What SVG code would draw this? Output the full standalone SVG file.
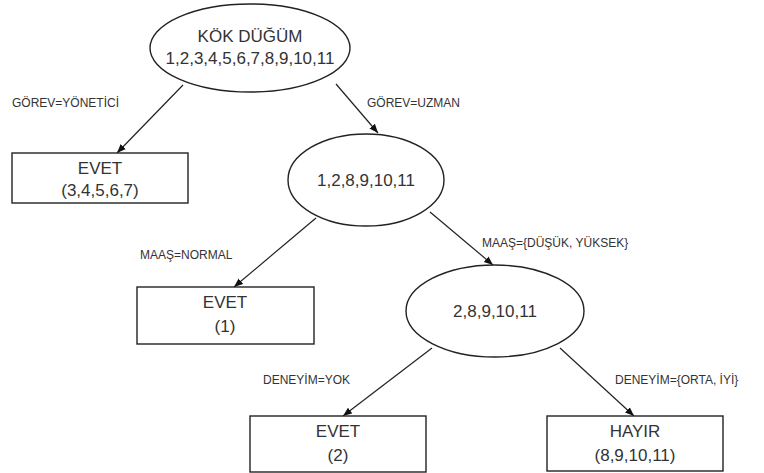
<svg xmlns="http://www.w3.org/2000/svg" width="764" height="473" viewBox="0 0 764 473">
<style>
.node{fill:#fff;stroke:#222;stroke-width:1.4}
.t{font-family:"Liberation Sans",Arial,sans-serif;font-size:17px;fill:#333;text-anchor:middle}
.lbl{font-family:"Liberation Sans",Arial,sans-serif;font-size:12px;fill:#333}
.e{stroke:#222;stroke-width:1.2;fill:none;marker-end:url(#ah)}
</style>
<defs>
<marker id="ah" viewBox="0 0 10 10" refX="10" refY="5" markerWidth="9" markerHeight="9" markerUnits="userSpaceOnUse" orient="auto">
<path d="M0,1 L10,5 L0,9 z" fill="#111"/>
</marker>
</defs>
<rect width="764" height="473" fill="#fff"/>
<g id="connectors">
<line class="e" x1="183" y1="85" x2="117" y2="153"/>
<line class="e" x1="336" y1="84" x2="378" y2="133"/>
<line class="e" x1="316" y1="218" x2="234" y2="287"/>
<line class="e" x1="430" y1="212" x2="493" y2="265"/>
<line class="e" x1="432" y1="348" x2="343" y2="416"/>
<line class="e" x1="560" y1="348" x2="634" y2="416"/>
<text class="lbl" x="12" y="107">GÖREV=YÖNETİCİ</text>
<text class="lbl" x="367" y="107">GÖREV=UZMAN</text>
<text class="lbl" x="140" y="259">MAAŞ=NORMAL</text>
<text class="lbl" x="482" y="247">MAAŞ={DÜŞÜK, YÜKSEK}</text>
<text class="lbl" x="263" y="384">DENEYİM=YOK</text>
<text class="lbl" x="615" y="384">DENEYİM={ORTA, İYİ}</text>
</g>
<g id="root">
<ellipse class="node" cx="250" cy="48" rx="100" ry="44"/>
<text class="t" x="250" y="42">KÖK DÜĞÜM</text>
<text class="t" x="250" y="64">1,2,3,4,5,6,7,8,9,10,11</text>
</g>
<g id="leaf1">
<rect class="node" x="12" y="153" width="176" height="50"/>
<text class="t" x="100" y="174">EVET</text>
<text class="t" x="100" y="196">(3,4,5,6,7)</text>
</g>
<g id="n2">
<ellipse class="node" cx="366" cy="180" rx="78" ry="46"/>
<text class="t" x="366" y="186">1,2,8,9,10,11</text>
</g>
<g id="leaf2">
<rect class="node" x="137" y="287" width="177" height="57"/>
<text class="t" x="225" y="308">EVET</text>
<text class="t" x="225" y="332">(1)</text>
</g>
<g id="n3">
<ellipse class="node" cx="495" cy="311" rx="89" ry="46"/>
<text class="t" x="495" y="317">2,8,9,10,11</text>
</g>
<g id="leaf3">
<rect class="node" x="250" y="416" width="176" height="56"/>
<text class="t" x="338" y="437">EVET</text>
<text class="t" x="338" y="461">(2)</text>
</g>
<g id="leaf4">
<rect class="node" x="547" y="416" width="176" height="55"/>
<text class="t" x="635" y="437">HAYIR</text>
<text class="t" x="635" y="461">(8,9,10,11)</text>
</g>
</svg>
